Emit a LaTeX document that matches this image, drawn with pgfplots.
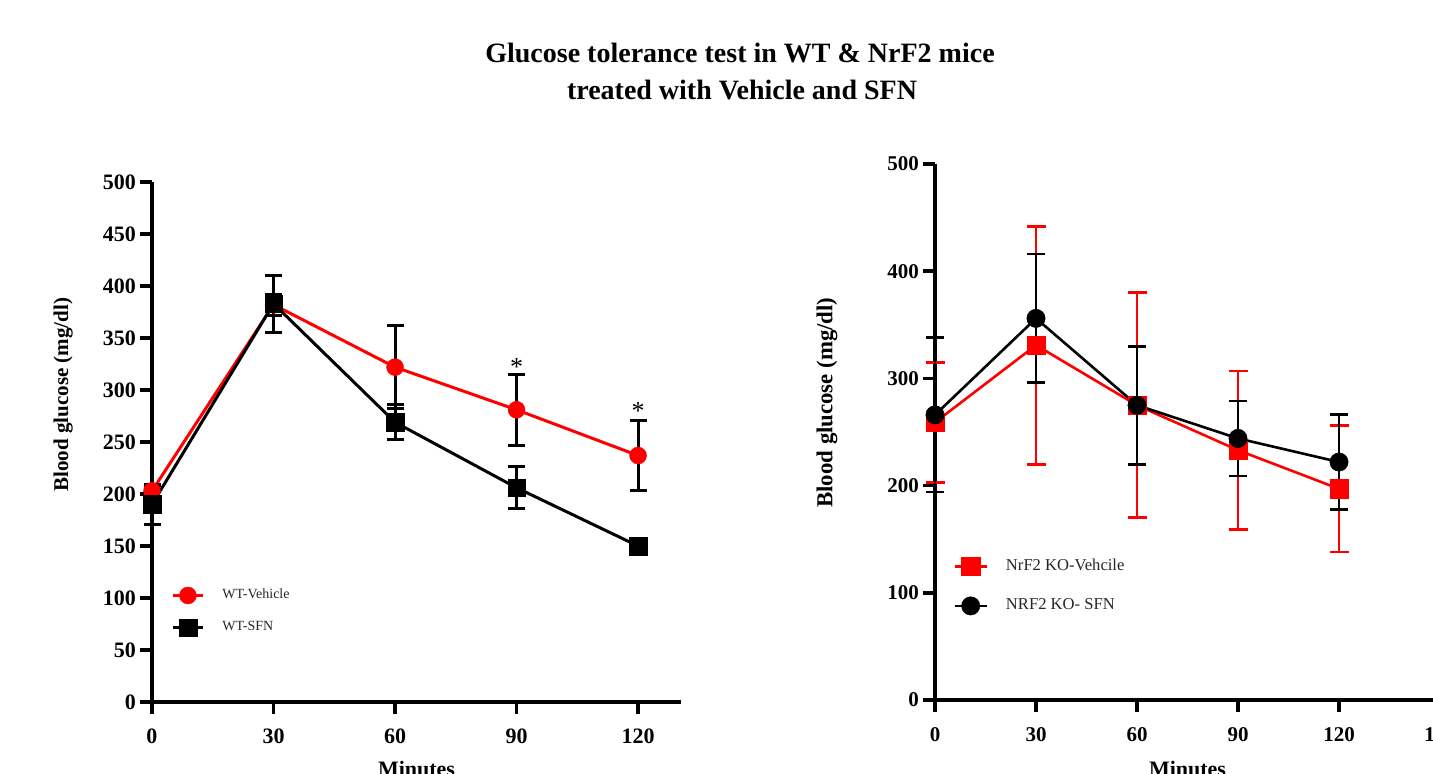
\documentclass[border=0pt]{standalone}
\usepackage{fontspec}
\setmainfont{Liberation Serif}
\usepackage{pgfplots}
\pgfplotsset{compat=1.18}
\definecolor{gred}{RGB}{255,0,0}

\begin{document}
\begin{tikzpicture}
\pgfplotsset{
  gstyle/.style={
    scale only axis,
    axis lines=left,
    axis line style={-, line width=2.2pt},
    tick align=outside,
    major tick length=6pt,
    tick style={line width=1.75pt, black},
    /pgf/number format/assume math mode=true,
    clip=false,
    ymin=0, ymax=500, xmin=0,
    legend cell align=left,
    xticklabel style={yshift=-4pt},
    yticklabel style={xshift=1.5pt},
  }
}
% ---------------- left panel ----------------
\begin{axis}[gstyle,
  at={(76pt,35.5pt)}, anchor=south west,
  width=264.5pt, height=260pt,
  xmax=130.6,
  xtick={0,30,60,90,120},
  ytick={0,50,...,500},
  ticklabel style={font=\bfseries\fontsize{11}{11}\selectfont},
  xlabel={Minutes},
  ylabel={Blood glucose (mg/dl)},
  xlabel style={at={(axis description cs:0.5,-0.1135)}, anchor=north, inner sep=0pt, font=\bfseries\fontsize{11}{11}\selectfont},
  ylabel style={at={(axis description cs:-0.168,0.591)}, anchor=center, font=\bfseries\fontsize{10.5}{10.5}\selectfont},
  legend style={at={(axis description cs:0.036,0.222)}, anchor=north west, draw=none, fill=none,
    inner sep=0pt, row sep=7.5pt, column sep=9pt,
    font=\fontsize{7}{7}\selectfont, nodes={inner sep=0pt, text=black!85}},
  legend image code/.code={\draw[mark repeat=2,mark phase=2] plot coordinates {(0pt,0pt) (7.5pt,0pt) (15pt,0pt)};},
]
\addplot[color=gred, line width=1.5pt, mark=*, mark size=4.25pt,
  mark options={solid, fill=gred, draw=gred, line width=0.2pt},
  error bars/.cd, y dir=both, y explicit,
  error bar style={black, line width=1.5pt},
  error mark options={rotate=90, black, line width=1.5pt, mark size=4.25pt}]
  coordinates {(0,203) +- (0,5) (30,382) +- (0,10) (60,322) +- (0,40) (90,281) +- (0,34) (120,237) +- (0,34)};
\addlegendentry{WT-Vehicle}
\addplot[color=black, line width=1.5pt, mark=square*, mark size=4.4pt,
  mark options={solid, fill=black, draw=black, line width=0.2pt},
  error bars/.cd, y dir=both, y explicit,
  error bar style={black, line width=1.5pt},
  error mark options={rotate=90, black, line width=1.5pt, mark size=4.25pt}]
  coordinates {(0,190) +- (0,19) (30,383) +- (0,27.5) (60,269) +- (0,17) (90,206) +- (0,20) (120,150) +- (0,6)};
\addlegendentry{WT-SFN}
\node[font=\fontsize{13}{13}\selectfont, anchor=base] at (axis cs:90,314) {*};
\node[font=\fontsize{13}{13}\selectfont, anchor=base] at (axis cs:120,272) {*};
\end{axis}
% ---------------- right panel ----------------
\begin{axis}[gstyle,
  at={(467.5pt,36.5pt)}, anchor=south west,
  width=252.5pt, height=268pt,
  xmax=150,
  xtick={0,30,60,90,120,150},
  ytick={0,100,...,500},
  ticklabel style={font=\bfseries\fontsize{10.5}{10.5}\selectfont},
  xlabel={Minutes},
  ylabel={Blood glucose (mg/dl)},
  xlabel style={at={(axis description cs:0.5,-0.114)}, anchor=north, inner sep=0pt, font=\bfseries\fontsize{11}{11}\selectfont},
  ylabel style={at={(axis description cs:-0.214,0.555)}, anchor=center, font=\bfseries\fontsize{11.4}{11.4}\selectfont},
  legend style={at={(axis description cs:0.0356,0.267)}, anchor=north west, draw=none, fill=none,
    inner sep=0pt, row sep=10.5pt, column sep=9pt,
    font=\fontsize{8.3}{8.3}\selectfont, nodes={inner sep=0pt, text=black!85}},
  legend image code/.code={\draw[mark repeat=2,mark phase=2] plot coordinates {(0pt,0pt) (8pt,0pt) (16pt,0pt)};},
]
\addplot[color=gred, line width=1.3pt, mark=square*, mark size=4.6pt,
  mark options={solid, fill=gred, draw=gred, line width=0.2pt},
  error bars/.cd, y dir=both, y explicit,
  error bar style={gred, line width=1.4pt},
  error mark options={rotate=90, gred, line width=1.4pt, mark size=4.75pt}]
  coordinates {(0,259) +- (0,56) (30,331) +- (0,111) (60,275) +- (0,105) (90,233) +- (0,74) (120,197) +- (0,59)};
\addlegendentry{NrF2 KO-Vehcile}
\addplot[color=black, line width=1.3pt, mark=*, mark size=4.6pt,
  mark options={solid, fill=black, draw=black, line width=0.2pt},
  error bars/.cd, y dir=both, y explicit,
  error bar style={black, line width=1.4pt},
  error mark options={rotate=90, black, line width=1.4pt, mark size=4.5pt}]
  coordinates {(0,266) +- (0,72) (30,356) +- (0,60) (60,275) +- (0,55) (90,244) +- (0,35) (120,222) +- (0,44)};
\addlegendentry{NRF2 KO- SFN}
\end{axis}
% ---------------- title ----------------
\node[anchor=base, font=\bfseries\fontsize{14}{14}\selectfont] at (370pt,355pt) {Glucose tolerance test in WT \& NrF2 mice};
\node[anchor=base, font=\bfseries\fontsize{14}{14}\selectfont] at (371pt,337pt) {treated with Vehicle and SFN};
\pgfresetboundingbox
\useasboundingbox (0pt,0pt) rectangle (716.5pt,386.5pt);
\end{tikzpicture}
\end{document}
